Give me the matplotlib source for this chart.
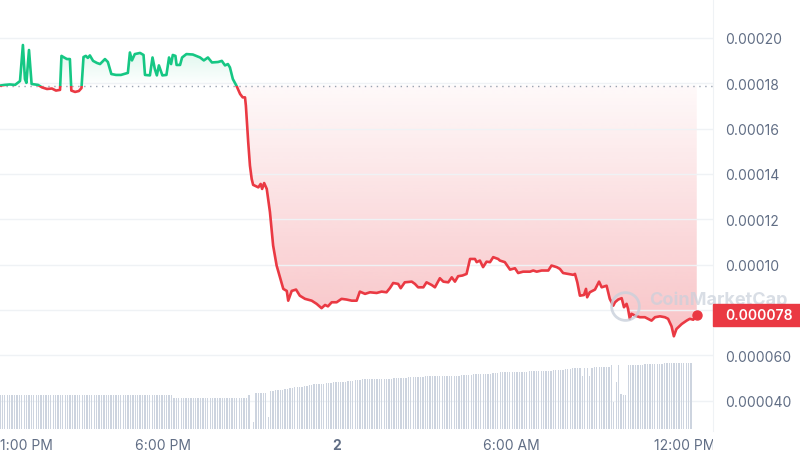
import numpy as np
import matplotlib
matplotlib.use('Agg')
import matplotlib.pyplot as plt
import matplotlib.transforms as mtransforms
from matplotlib.patches import Rectangle
from matplotlib.path import Path
from matplotlib.colors import to_rgb

plt.rcParams['font.family'] = ['Inter', 'DejaVu Sans']

# hours since midnight of day 1 (24 = midnight of day 2)
hours = [12.38, 12.55, 12.72, 12.90, 13.07, 13.17, 13.24, 13.29, 13.38, 13.47,
         13.59, 13.69, 13.83, 14.00, 14.17, 14.31, 14.45, 14.50, 14.59, 14.69,
         14.79, 14.84, 14.97, 15.10, 15.19, 15.26, 15.34, 15.41, 15.48, 15.59,
         15.72, 15.83, 16.00, 16.10, 16.22, 16.38, 16.55, 16.79, 16.86, 16.93,
         17.03, 17.21, 17.33, 17.38, 17.55, 17.64, 17.72, 17.79, 17.86, 17.98,
         18.12, 18.21, 18.28, 18.34, 18.43, 18.47, 18.59, 18.66, 18.81, 19.03,
         19.28, 19.41, 19.55, 19.69, 19.90, 20.03, 20.14, 20.24, 20.31, 20.41,
         20.54, 20.66, 20.75, 20.83, 20.86, 20.94, 21.00, 21.06, 21.11, 21.29,
         21.37, 21.42, 21.49, 21.58, 21.69, 21.80, 21.92, 22.03, 22.15, 22.27,
         22.32, 22.44, 22.59, 22.72, 22.90, 23.13, 23.30, 23.47, 23.59, 23.69,
         23.82, 23.99, 24.16, 24.33, 24.51, 24.68, 24.79, 24.97, 25.14, 25.37,
         25.54, 25.71, 25.83, 25.94, 26.11, 26.20, 26.34, 26.58, 26.69, 26.80,
         26.98, 27.09, 27.27, 27.38, 27.55, 27.67, 27.84, 27.96, 28.07, 28.18,
         28.33, 28.47, 28.59, 28.76, 28.82, 28.93, 29.04, 29.16, 29.28, 29.39,
         29.56, 29.62, 29.79, 29.97, 30.14, 30.25, 30.42, 30.66, 30.77, 30.89,
         31.06, 31.29, 31.40, 31.58, 31.69, 31.80, 31.98, 32.15, 32.21, 32.29,
         32.38, 32.52, 32.59, 32.63, 32.72, 32.90, 33.04, 33.13, 33.30, 33.41,
         33.53, 33.59, 33.70, 33.82, 33.90, 33.99, 34.04, 34.10, 34.16, 34.28,
         34.45, 34.62, 34.73, 34.85, 34.97, 35.14, 35.31, 35.42, 35.54, 35.62,
         35.71, 35.89, 36.06, 36.17, 36.29, 36.41]

# price in millionths of a dollar
price_micro = [179.0, 179.3, 179.5, 179.3, 181.0, 196.9, 181.9, 180.2, 194.7, 179.7,
               179.5, 179.3, 178.2, 177.5, 177.7, 176.8, 177.1, 192.1, 191.4, 190.7,
               190.7, 176.8, 176.2, 176.6, 177.9, 191.6, 192.1, 191.2, 192.3, 189.9,
               189.0, 188.5, 190.7, 189.4, 184.1, 183.7, 183.7, 184.6, 193.6, 190.1,
               192.9, 193.4, 192.5, 183.7, 183.5, 191.4, 186.3, 183.5, 187.9, 183.5,
               183.7, 191.4, 188.5, 192.5, 192.1, 188.1, 188.1, 191.4, 192.9, 192.7,
               191.4, 190.1, 191.4, 189.2, 189.4, 189.9, 187.9, 188.5, 187.0, 181.9,
               178.8, 175.3, 173.8, 173.8, 170.1, 154.1, 143.7, 137.8, 135.2, 134.1,
               135.6, 133.4, 136.0, 133.4, 123.2, 108.4, 99.6, 94.6, 89.3, 88.4,
               84.1, 88.4, 89.0, 86.3, 84.9, 84.1, 82.7, 80.8, 82.2, 81.6,
               83.4, 83.4, 84.9, 84.6, 84.1, 84.1, 88.1, 87.1, 87.8, 87.5,
               88.1, 87.8, 89.7, 91.9, 91.5, 89.6, 92.2, 92.5, 91.5, 90.0,
               90.0, 92.2, 91.0, 90.0, 94.0, 92.5, 92.2, 94.4, 92.5, 94.9,
               95.2, 95.9, 102.5, 102.5, 101.1, 101.8, 98.9, 101.3, 101.1, 103.3,
               102.5, 101.8, 101.1, 97.8, 98.4, 96.3, 96.9, 96.9, 97.4, 96.9,
               97.4, 97.4, 99.6, 98.9, 98.1, 96.3, 95.9, 95.5, 95.9, 92.2,
               86.3, 86.6, 89.3, 85.6, 87.8, 89.0, 92.5, 90.0, 90.7, 84.9,
               81.9, 83.4, 84.6, 85.2, 81.2, 82.7, 80.5, 76.1, 78.3, 77.5,
               76.8, 76.8, 76.1, 75.3, 76.8, 77.2, 76.8, 76.1, 72.8, 68.4,
               71.6, 73.8, 75.3, 76.1, 75.7, 77.8]

# 24h volume, one bar every 5 minutes from the first price point (relative units)
volume = [46, 46, 46, 46, 46, 46, 46, 46, 46, 46, 46, 46, 46, 46, 46, 46, 46, 46, 46, 46, 46, 46, 46, 46,
          46, 46, 46, 46, 46, 46, 46, 46, 46, 46, 46, 46, 46, 46, 46, 46, 46, 46, 46, 46, 46, 46, 46, 46,
          46, 46, 46, 46, 46, 46, 46, 46, 46, 46, 46, 46, 46, 46, 46, 46, 46, 46, 46, 46, 46, 46, 46, 46,
          43, 43, 43, 43, 43, 43, 43, 43, 43, 43, 43, 43, 43, 43, 43, 43, 43, 43, 43, 43, 43, 43, 43, 43,
          43, 43, 43, 43, 43, 43, 43, 46, 0, 10, 49, 49, 50, 50, 50, 16, 52, 52, 53, 53, 54, 54,
          55, 55, 56, 56, 57, 57, 58, 58, 59, 59, 60, 60, 61, 61, 61, 62, 62, 63, 63, 63, 64, 64, 64, 65,
          65, 65, 66, 66, 66, 67, 67, 67, 68, 68, 68, 68, 68, 68, 69, 69, 69, 69, 69, 69, 69, 70, 70, 70,
          70, 70, 70, 71, 71, 71, 71, 71, 71, 71, 72, 72, 72, 72, 72, 72, 72, 72, 72, 72, 72, 73, 73, 73,
          73, 74, 74, 74, 74, 74, 75, 75, 75, 75, 76, 76, 76, 76, 77, 77, 77, 78, 78, 78, 78, 78, 78, 78,
          78, 78, 78, 78, 78, 79, 79, 79, 79, 79, 80, 80, 80, 80, 80, 81, 81, 81, 81, 81, 82, 82, 82, 83,
          83, 84, 84, 73, 84, 84, 73, 84, 85, 85, 85, 85, 85, 85, 85, 87, 37, 64, 88, 48, 46, 46, 88, 88,
          88, 88, 88, 88, 88, 89, 89, 89, 89, 89, 89, 89, 89, 90, 90, 90, 90, 90, 90, 90, 91, 90, 90, 90,
          91]

xtick_hours = [13, 18, 24, 30, 36]
xtick_labels = ['1:00 PM', '6:00 PM', '2', '6:00 AM', '12:00 PM']
ytick_values = [0.00004, 0.00006, 0.00008, 0.00010, 0.00012, 0.00014, 0.00016, 0.00018, 0.00020]
ytick_labels = ['0.000040', '0.000060', '', '0.00010', '0.00012', '0.00014', '0.00016', '0.00018', '0.00020']

GREEN = '#16c784'
RED = '#ea3943'
GRID = '#eff2f5'
LABEL = '#616e85'

t = np.array(hours)
p = np.array(price_micro) * 1e-6
base = p[0]
x_lo, x_hi = 12.38, 36.97
y_lo, y_hi = 0.0000266, 0.0002172

fig = plt.figure(figsize=(8, 4.6), dpi=100)
ax = fig.add_axes([0, 28 / 460, 713 / 800, 432 / 460])
ax.set_facecolor('none')


def gradient(color, a_bottom, a_top):
    arr = np.zeros((256, 1, 4))
    arr[..., :3] = to_rgb(color)
    arr[:, 0, 3] = np.linspace(a_bottom, a_top, 256)
    return arr


# gradient fills between the line and the opening price
up = ax.fill_between(t, p, base, where=p >= base, interpolate=True)
up_path = Path.make_compound_path(*up.get_paths())
up.remove()
dn = ax.fill_between(t, p, base, where=p <= base, interpolate=True)
dn_path = Path.make_compound_path(*dn.get_paths())
dn.remove()

im_up = ax.imshow(gradient(GREEN, 0.0, 0.16), extent=[t[0], t[-1], base, p.max()],
                  origin='lower', aspect='auto', interpolation='bilinear', zorder=1)
im_up.set_clip_path(up_path, ax.transData)
im_dn = ax.imshow(gradient(RED, 0.30, 0.03), extent=[t[0], t[-1], p.min(), base],
                  origin='lower', aspect='auto', interpolation='bilinear', zorder=1)
im_dn.set_clip_path(dn_path, ax.transData)

# price line, green above the opening price and red below
line_up, = ax.plot(t, p, color=GREEN, lw=1.9, zorder=3, solid_joinstyle='round')
line_up.set_clip_path(Rectangle((x_lo - 1, base), 40, 1, transform=ax.transData))
line_dn, = ax.plot(t, p, color=RED, lw=1.9, zorder=3, solid_joinstyle='round')
line_dn.set_clip_path(Rectangle((x_lo - 1, base - 1), 40, 1, transform=ax.transData))
ax.plot(t[-1], p[-1], 'o', color=RED, ms=6.5, zorder=4)

ax.axhline(base, color='#9aa3b2', lw=1, ls=(0, (1, 3.3)), zorder=2)

ax.set_xlim(x_lo, x_hi)
ax.set_ylim(y_lo, y_hi)
ax.set_xticks([])
ax.set_yticks(ytick_values)
ax.set_yticklabels(ytick_labels)
ax.yaxis.tick_right()
ax.tick_params(axis='y', length=0, pad=8.5, labelsize=10, labelcolor=LABEL)
ax.grid(axis='y', color=GRID, lw=1, zorder=0)
for side in ['top', 'left', 'bottom']:
    ax.spines[side].set_visible(False)
ax.spines['right'].set_color(GRID)

# watermark
ax.plot([0.877], [0.29], transform=ax.transAxes, marker='o', ms=20, mfc='none',
        mec='#c9d0db', mew=2, alpha=0.8, zorder=5)
ax.text(0.91, 0.305, 'CoinMarketCap', transform=ax.transAxes, fontsize=13,
        fontweight='bold', color='#c9d0db', alpha=0.7, va='center', ha='left', zorder=5)

# current price tag
tag_trans = mtransforms.blended_transform_factory(ax.transAxes, ax.transData)
ax.add_patch(Rectangle((1.0, p[-1] - 4.8e-6), 0.2, 9.6e-6, transform=tag_trans,
                       color=RED, clip_on=False, zorder=6))
ax.text(1.0168, p[-1], f'{p[-1]:.6f}', transform=tag_trans, color='white', fontsize=10,
        fontweight='semibold', va='center', ha='left', zorder=7)

# time labels
xlab_trans = mtransforms.blended_transform_factory(ax.transData, ax.transAxes)
xlabels = []
for h, lab in zip(xtick_hours, xtick_labels):
    xlabels.append(ax.text(h, -14 / 432, lab, transform=xlab_trans, ha='center', va='center',
                           fontsize=10, color=LABEL,
                           fontweight='bold' if lab == '2' else 'normal'))

# volume bars
vax = fig.add_axes([0, 30 / 460, 713 / 800, 73 / 460], zorder=1)
vax.patch.set_alpha(0)
vax.axis('off')
vol_t = t[0] + np.arange(len(volume)) / 12
vax.bar(vol_t, volume, width=0.045, color='#cdd4df', linewidth=0)
vax.set_xlim(x_lo, x_hi)
vax.set_ylim(0, 100)

fig.canvas.draw()
renderer = fig.canvas.get_renderer()
ax_box = ax.get_window_extent(renderer)
for lab in xlabels:
    bb = lab.get_window_extent(renderer)
    if bb.x0 < ax_box.x0:
        lab.set_horizontalalignment('left')
        lab.set_x(x_lo)
    if bb.x1 > ax_box.x1:
        lab.set_clip_path(None)
        lab.set_clip_box(mtransforms.TransformedBbox(mtransforms.Bbox([[0, -1], [1, 1]]), ax.transAxes))
        lab.set_clip_on(True)

fig.savefig('out.png', dpi=100)
